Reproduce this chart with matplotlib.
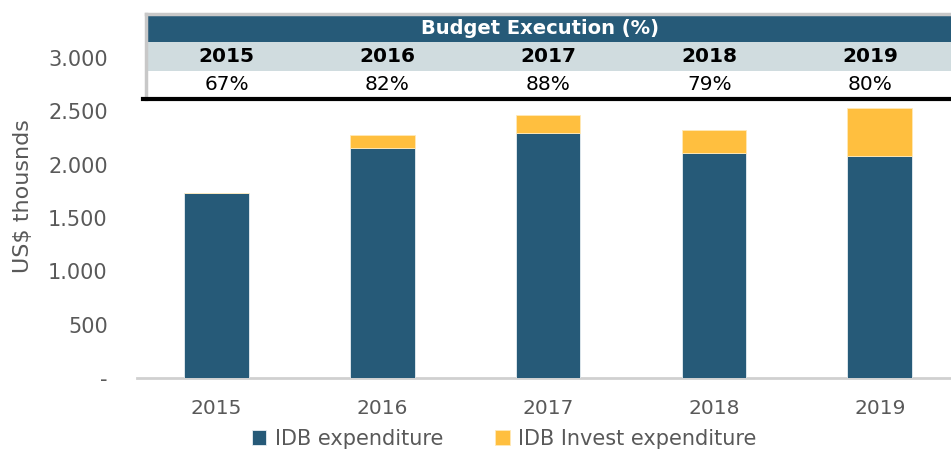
import matplotlib
matplotlib.use('Agg')
import matplotlib.pyplot as plt
import numpy as np
from matplotlib.patches import Rectangle
from matplotlib.ticker import FuncFormatter

# data
years = ['2015', '2016', '2017', '2018', '2019']
idb_exp = [1730, 2160, 2300, 2110, 2085]
idb_invest_exp = [0, 120, 170, 215, 450]
budget_exec = ['67%', '82%', '88%', '79%', '80%']

dark = '#265A78'
yellow = '#FFBF3F'
grey_txt = '#595959'

plt.rcParams['font.family'] = ['DejaVu Sans']

fig = plt.figure(figsize=(9.51, 4.54), dpi=100)
ax = fig.add_axes([0.144, 0.1674, 0.856, 0.7048])

x = np.arange(len(years))
w = 0.39
b1 = ax.bar(x, idb_exp, w, color=dark, edgecolor='#E8EEF2', linewidth=0.6,
            label='IDB expenditure', zorder=3)
b2 = ax.bar(x, idb_invest_exp, w, bottom=idb_exp, color=yellow,
            edgecolor='#FFE9B8', linewidth=0.6, label='IDB Invest expenditure', zorder=3)

ax.set_xlim(-0.48, 4.43)
ax.set_ylim(0, 3000)
ax.set_yticks(np.arange(0, 3001, 500))
ax.yaxis.set_major_formatter(FuncFormatter(
    lambda v, p: '-' if v == 0 else '{:,.0f}'.format(v).replace(',', '.')))
ax.set_xticks(x)
ax.set_xticklabels(years)
ax.tick_params(axis='y', length=0, labelsize=15, labelcolor=grey_txt, pad=21)
ax.tick_params(axis='x', length=0, labelsize=14.5, labelcolor=grey_txt, pad=15)
for s in ['top', 'right', 'left']:
    ax.spines[s].set_visible(False)
ax.spines['bottom'].set_color('#D0D0D0')
ax.spines['bottom'].set_linewidth(2)
ax.set_ylabel('US$ thousnds', fontsize=16, color=grey_txt)
ax.yaxis.set_label_coords(-0.128, 0.57)

fig.legend(handles=[b1, b2], loc='lower center', bbox_to_anchor=(0.53, -0.03),
           ncol=2, frameon=False, fontsize=15, handlelength=0.7, handleheight=0.7,
           handletextpad=0.4, columnspacing=2.5, labelcolor=grey_txt)

# budget execution table on top
tax = fig.add_axes([0.1535, 0.782, 0.8465, 0.187])
tax.set_xlim(0, len(years))
tax.set_ylim(0, 3)
tax.axis('off')
tax.add_patch(Rectangle((0, 2), len(years), 1, color=dark, lw=0))
tax.add_patch(Rectangle((0, 1), len(years), 1, color='#D0DCDF', lw=0))
tax.add_patch(Rectangle((0, 0), len(years), 1, color='white', lw=0))
tax.plot([0, 0], [0, 3], color='#C8C8C8', lw=2.5, clip_on=False)
tax.plot([0, len(years)], [3, 3], color='#C8C8C8', lw=2.5, clip_on=False)
tax.plot([-0.02, len(years)], [0, 0], color='black', lw=3, clip_on=False)
tax.text(len(years) / 2 - 0.05, 2.5, 'Budget Execution (%)', color='white',
         fontsize=14, fontweight='bold', ha='center', va='center')
for i, (yr, pct) in enumerate(zip(years, budget_exec)):
    tax.text(i + 0.5, 1.5, yr, fontsize=14.5, fontweight='bold', ha='center', va='center')
    tax.text(i + 0.5, 0.5, pct, fontsize=14.5, ha='center', va='center')

fig.savefig('out.png', dpi=100)
